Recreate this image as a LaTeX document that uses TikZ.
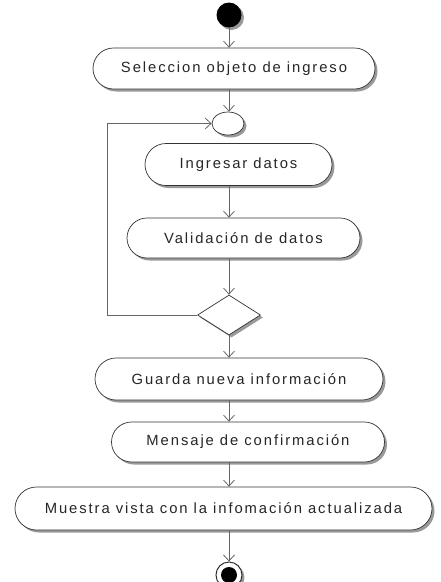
\documentclass[tikz,border=0pt]{standalone}
\usepackage{fontspec}
\setmainfont{Liberation Sans}[LetterSpace=13]
\usetikzlibrary{shapes.misc,shapes.geometric,arrows.meta,shadows}
\begin{document}
\begin{tikzpicture}[x=1pt,y=-1pt,
  shad/.style={drop shadow={shadow xshift=2.5pt,shadow yshift=-2.5pt,fill=black!40,opacity=1}},
  act/.style={rounded rectangle, draw=black!80, line width=0.7pt, fill=white, text=black!85,
    font=\fontsize{14.8}{17}\selectfont, inner sep=0pt, shad},
  flow/.style={draw=black!60, line width=0.8pt, -{Straight Barb[length=6pt,width=11pt]}}]
\useasboundingbox[fill=white] (0,0) rectangle (440,582);
\coordinate (ax) at (229,0);
\coordinate (loopc) at (107,315);
\node[circle, fill=black, minimum size=25pt, inner sep=0pt, shad] (start) at (229,15) {};
\node[act, minimum width=282pt, minimum height=41pt] (n1) at (234,68.5) {Seleccion objeto de ingreso};
\node[ellipse, draw=black!80, line width=0.7pt, fill=white, minimum width=32pt, minimum height=23pt, inner sep=0pt, shad] (merge) at (228,123.5) {};
\node[act, minimum width=187pt, minimum height=42pt] (n2) at (238.5,164.5) {Ingresar datos};
\node[act, minimum width=233pt, minimum height=40pt] (n3) at (243.5,238) {Validación de datos};
\node[diamond, draw=black!80, line width=0.7pt, fill=white, minimum width=63pt, minimum height=40pt, inner sep=0pt, shad] (dec) at (229,315) {};
\node[act, minimum width=288pt, minimum height=42pt] (n4) at (239,379) {Guarda nueva información};
\node[act, minimum width=273pt, minimum height=40pt] (n5) at (248,442) {Mensaje de confirmación};
\node[act, minimum width=417pt, minimum height=43pt] (n6) at (223.5,508.5) {Muestra vista con la infomación actualizada};
\node[circle, draw=black!80, line width=1pt, fill=white, minimum size=26pt, inner sep=0pt, shad] (end) at (229,575) {};
\node[circle, fill=black, minimum size=16pt, inner sep=0pt] (endin) at (end) {};

\draw[flow] (start.south -| ax) -- (n1.north -| ax);
\draw[flow] (n1.south -| ax) -- (merge.north -| ax);
\draw[flow] (n2.south -| ax) -- (n3.north -| ax);
\draw[flow] (n3.south -| ax) -- (dec.north -| ax);
\draw[flow] (dec.west) -- (loopc) |- (merge.west);
\draw[flow] (dec.south -| ax) -- (n4.north -| ax);
\draw[flow] (n4.south -| ax) -- (n5.north -| ax);
\draw[flow] (n5.south -| ax) -- (n6.north -| ax);
\draw[flow] (n6.south -| ax) -- (end.north -| ax);
\end{tikzpicture}
\end{document}
